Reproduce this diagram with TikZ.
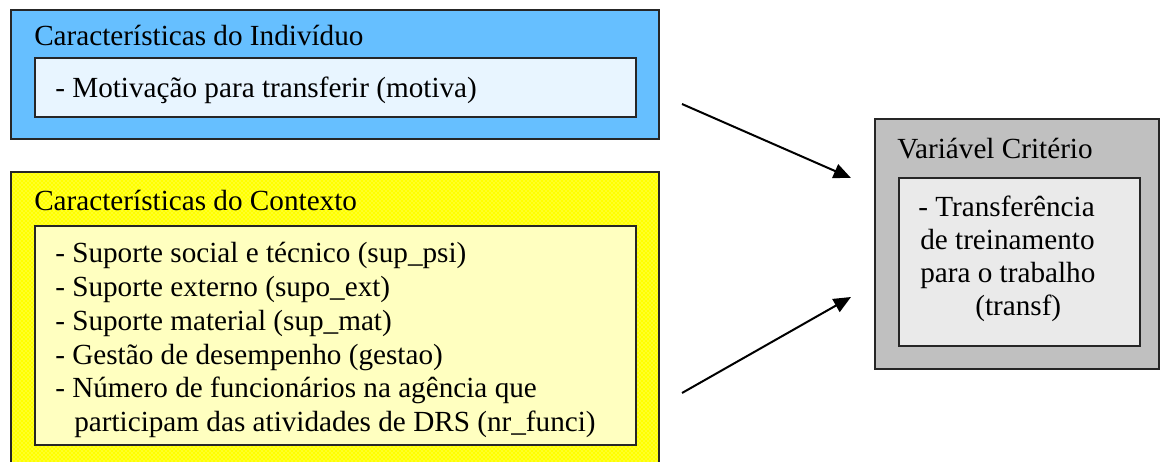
\documentclass[tikz,border=0pt]{standalone}
\usepackage{fontspec}
\setmainfont{Liberation Serif}
\usetikzlibrary{arrows.meta,patterns}
\definecolor{bluebox}{RGB}{102,191,255}
\definecolor{bluein}{RGB}{232,245,255}
\definecolor{yellowbox}{RGB}{255,255,0}
\definecolor{yellowdot}{RGB}{255,255,170}
\definecolor{yellowin}{RGB}{255,255,192}
\definecolor{grayout}{RGB}{192,192,192}
\definecolor{grayin}{RGB}{234,234,234}
\begin{document}
\begin{tikzpicture}[x=0.75pt,y=-0.75pt,
  frame/.style={draw=black!85, line width=1.5pt, anchor=north west, inner sep=0pt},
  txt/.style={anchor=base west, inner sep=0pt, font=\fontsize{21.9}{26}\selectfont},
  link/.style={line width=1.5pt, -{Triangle[length=13pt,width=11pt]}}]
\useasboundingbox (0,0) rectangle (1160,461);
\clip (0,0) rectangle (1160,461);

% individual characteristics
\node (indiv) [frame, fill=bluebox, minimum width=486pt, minimum height=96.75pt] at (10,9) {};
\node (indivin) [frame, fill=bluein, minimum width=450.75pt, minimum height=44.25pt] at (34,57) {};
\node (indivt) [txt] at (34,45) {Características do Indivíduo};
\node (motiva) [txt] at (55,97) {- Motivação para transferir (motiva)};

% context characteristics
\node (ctx) [frame, preaction={fill=yellowbox}, pattern=crosshatch dots, pattern color=yellowdot,
  minimum width=486pt, minimum height=231.75pt] at (10,171) {};
\node (ctxin) [frame, fill=yellowin, minimum width=450.75pt, minimum height=164.25pt] at (34,225) {};
\node (ctxt) [txt] at (34,210) {Características do Contexto};
\node (c1) [txt] at (55,262) {- Suporte social e técnico (sup\_psi)};
\node (c2) [txt] at (55,296) {- Suporte externo (supo\_ext)};
\node (c3) [txt] at (55,330) {- Suporte material (sup\_mat)};
\node (c4) [txt] at (55,364) {- Gestão de desempenho (gestao)};
\node (c5) [txt] at (55,397) {- Número de funcionários na agência que};
\node (c6) [txt] at (74,431) {participam das atividades de DRS (nr\_funci)};

% criterion variable
\node (crit) [frame, fill=grayout, minimum width=213pt, minimum height=187.5pt] at (874,118) {};
\node (critin) [frame, fill=grayin, minimum width=180.75pt, minimum height=126pt] at (898,177) {};
\node (critt) [txt] at (897,158) {Variável Critério};
\node (t1) [txt] at (918,216) {- Transferência};
\node (t2) [txt] at (920,249) {de treinamento};
\node (t3) [txt] at (920,282) {para o trabalho};
\node (t4) [txt] at (975,315) {(transf)};

% influence arrows
\coordinate (a1s) at (682,104);
\coordinate (a1e) at (851,178);
\coordinate (a2s) at (682,393);
\coordinate (a2e) at (851,297);
\draw[link] (a1s) -- (a1e);
\draw[link] (a2s) -- (a2e);
\end{tikzpicture}
\end{document}
